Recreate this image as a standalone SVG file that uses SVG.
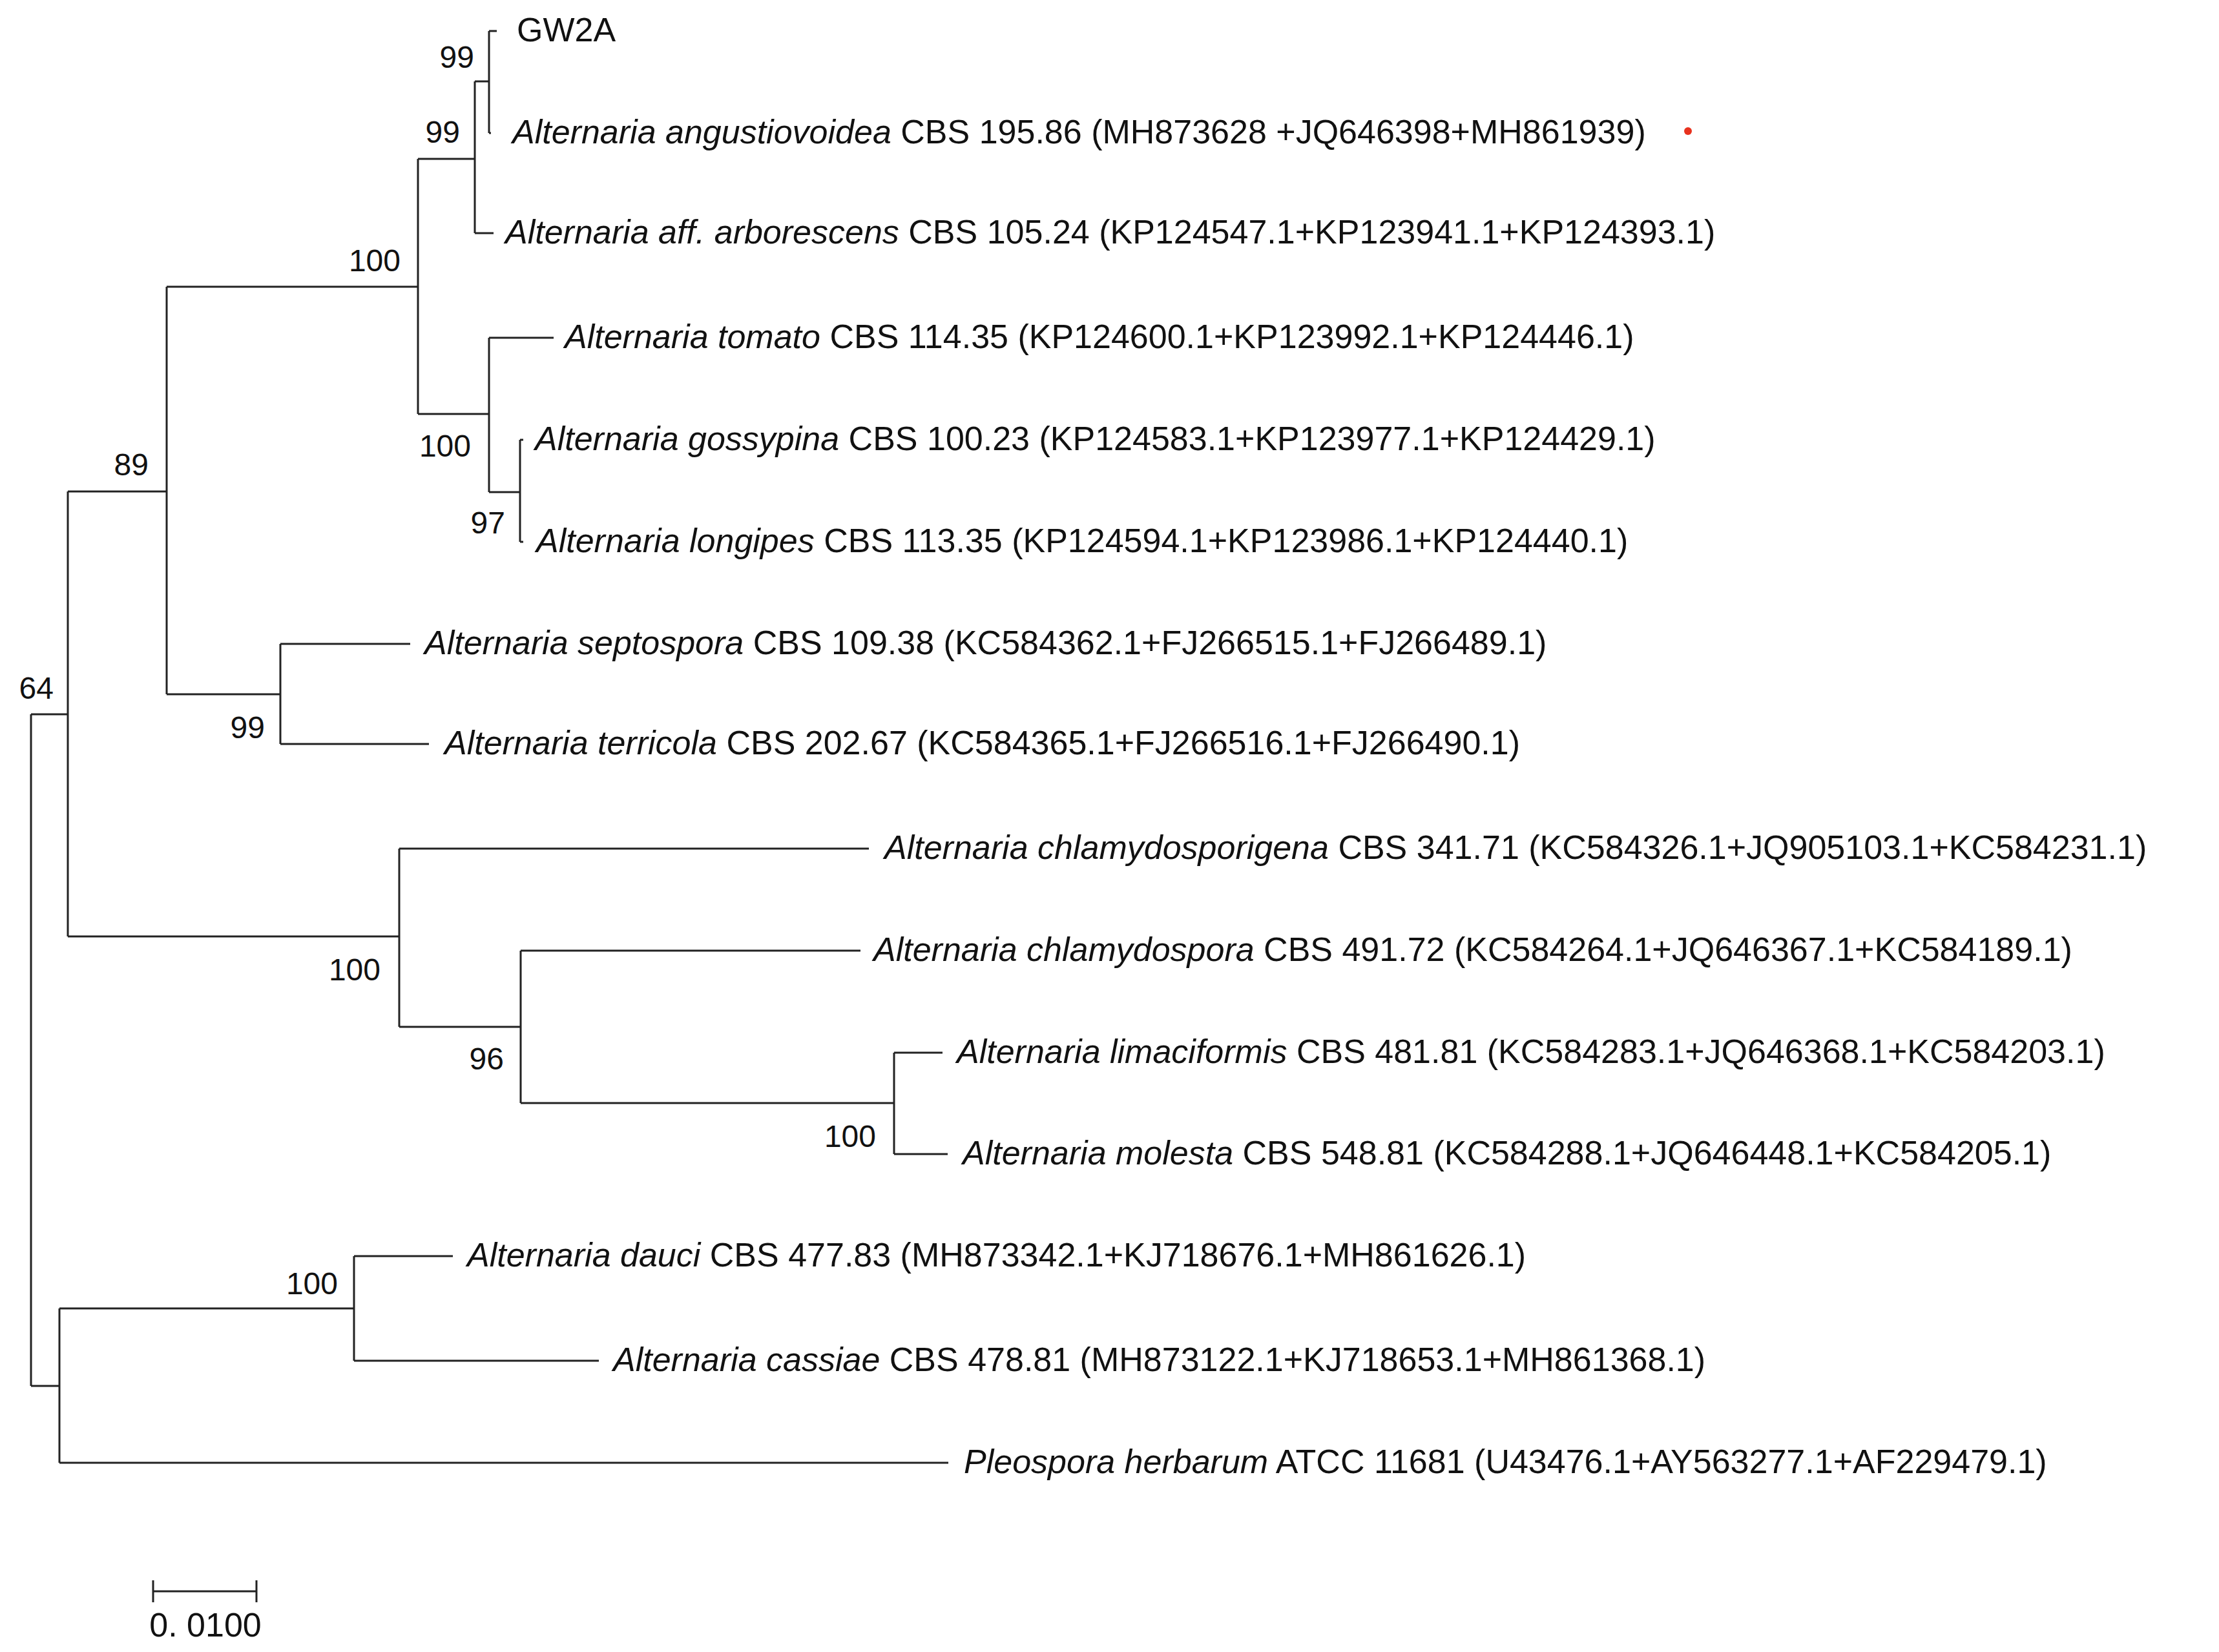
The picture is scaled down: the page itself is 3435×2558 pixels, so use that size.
<svg xmlns="http://www.w3.org/2000/svg" width="3435" height="2558" viewBox="0 0 3435 2558">
<style>
.l{stroke:#222;stroke-width:3;fill:none}
text{font-family:"Liberation Sans",Arial,sans-serif;font-size:52px;fill:#111}
.i{font-style:italic}
.b{text-anchor:end;font-size:48px}
</style>
<rect width="3435" height="2558" fill="#fff"/>
<g id="connectors">
<path class="l" d="M48,1106V2146M48,1106H105M48,2146H92
M105,761V1450M105,761H258M105,1450H618
M258,444V1075M258,444H647M258,1075H434
M647,246V641M647,246H735M647,641H757
M735,126V361M735,126H757M735,361H764
M757,48V206M757,48H769M757,206H760
M757,523V762M757,523H857M757,762H805
M805,681V839M805,681H810M805,839H810
M434,997V1152M434,997H635M434,1152H664
M618,1314V1590M618,1314H1345M618,1590H806
M806,1472V1708M806,1472H1332M806,1708H1384
M1384,1630V1787M1384,1630H1459M1384,1787H1467
M92,2026V2265M92,2026H548M92,2265H1468
M548,1945V2107M548,1945H701M548,2107H927"/>
<path class="l" d="M237,2464H397M237,2447V2481M397,2447V2481"/>
</g>
<g id="n1"><text x="800" y="64">GW2A</text></g>
<g id="n2"><text x="793" y="222"><tspan class="i">Alternaria angustiovoidea</tspan> CBS 195.86 (MH873628 +JQ646398+MH861939)</text><circle cx="2613" cy="203" r="6" fill="#e8321e"/></g>
<g id="n3"><text x="782" y="377"><tspan class="i">Alternaria aff. arborescens</tspan> CBS 105.24 (KP124547.1+KP123941.1+KP124393.1)</text></g>
<g id="n4"><text x="874" y="539"><tspan class="i">Alternaria tomato</tspan> CBS 114.35 (KP124600.1+KP123992.1+KP124446.1)</text></g>
<g id="n5"><text x="828" y="697"><tspan class="i">Alternaria gossypina</tspan> CBS 100.23 (KP124583.1+KP123977.1+KP124429.1)</text></g>
<g id="n6"><text x="830" y="855"><tspan class="i">Alternaria longipes</tspan> CBS 113.35 (KP124594.1+KP123986.1+KP124440.1)</text></g>
<g id="n7"><text x="657" y="1013"><tspan class="i">Alternaria septospora</tspan> CBS 109.38 (KC584362.1+FJ266515.1+FJ266489.1)</text></g>
<g id="n8"><text x="688" y="1168"><tspan class="i">Alternaria terricola</tspan> CBS 202.67 (KC584365.1+FJ266516.1+FJ266490.1)</text></g>
<g id="n9"><text x="1369" y="1330"><tspan class="i">Alternaria chlamydosporigena</tspan> CBS 341.71 (KC584326.1+JQ905103.1+KC584231.1)</text></g>
<g id="n10"><text x="1352" y="1488"><tspan class="i">Alternaria chlamydospora</tspan> CBS 491.72 (KC584264.1+JQ646367.1+KC584189.1)</text></g>
<g id="n11"><text x="1481" y="1646"><tspan class="i">Alternaria limaciformis</tspan> CBS 481.81 (KC584283.1+JQ646368.1+KC584203.1)</text></g>
<g id="n12"><text x="1490" y="1803"><tspan class="i">Alternaria molesta</tspan> CBS 548.81 (KC584288.1+JQ646448.1+KC584205.1)</text></g>
<g id="n13"><text x="723" y="1961"><tspan class="i">Alternaria dauci</tspan> CBS 477.83 (MH873342.1+KJ718676.1+MH861626.1)</text></g>
<g id="n14"><text x="949" y="2123"><tspan class="i">Alternaria cassiae</tspan> CBS 478.81 (MH873122.1+KJ718653.1+MH861368.1)</text></g>
<g id="n15"><text x="1492" y="2281"><tspan class="i">Pleospora herbarum</tspan> ATCC 11681 (U43476.1+AY563277.1+AF229479.1)</text></g>
<g id="support">
<text class="b" x="734" y="105">99</text>
<text class="b" x="712" y="221">99</text>
<text class="b" x="620" y="420">100</text>
<text class="b" x="729" y="707">100</text>
<text class="b" x="782" y="826">97</text>
<text class="b" x="230" y="736">89</text>
<text class="b" x="410" y="1143">99</text>
<text class="b" x="83" y="1082">64</text>
<text class="b" x="589" y="1518">100</text>
<text class="b" x="780" y="1656">96</text>
<text class="b" x="1356" y="1776">100</text>
<text class="b" x="523" y="2004">100</text>
<text x="318" y="2534" text-anchor="middle" font-size="48">0. 0100</text>
</g>
</svg>
